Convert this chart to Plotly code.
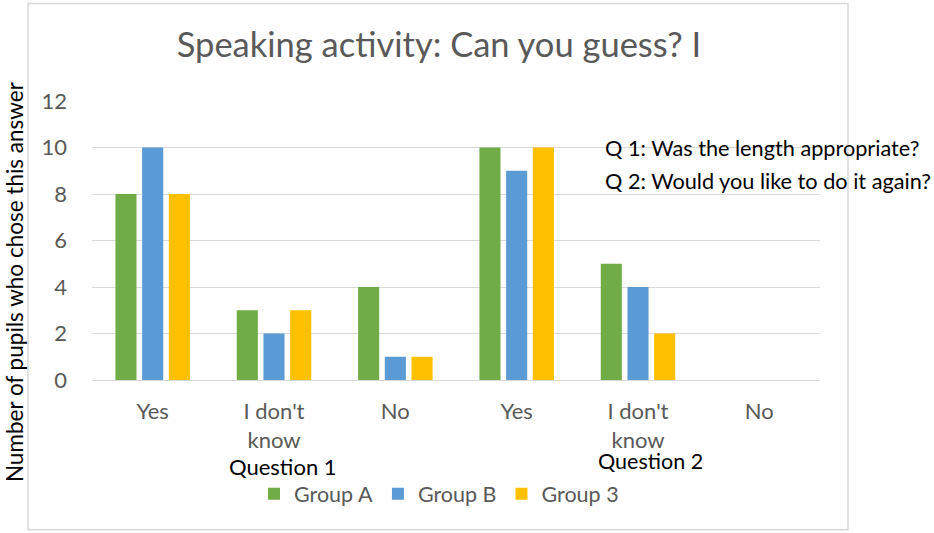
import plotly.graph_objects as go

categories = ["Yes", "I don't<br>know", "No", "Yes", "I don't<br>know", "No"]
group_a = [8, 3, 4, 10, 5, 0]
group_b = [10, 2, 1, 9, 4, 0]
group_3 = [8, 3, 1, 10, 2, 0]
series_names = ["Group A", "Group B", "Group 3"]
series_colors = ["#70AD47", "#5B9BD5", "#FFC000"]
y_ticks = [0, 2, 4, 6, 8, 10, 12]

x_pos = list(range(len(categories)))
FONT = "Lato"
GRAY = "#595959"

fig = go.Figure()
for name, vals, col in zip(series_names, [group_a, group_b, group_3], series_colors):
    fig.add_trace(go.Bar(x=x_pos, y=vals, name=name, marker_color=col,
                         marker_line_width=0))

# plot area geometry (px): left 92, right 820, top 100.7, bottom 380
L, R, T, B = 92, 820, 100.7, 380
W, H = 934, 533

def px_x(px):
    return (px - L) / (R - L)

def px_y(py):
    return (B - py) / (B - T)

fig.update_layout(
    width=W, height=H,
    margin=dict(l=L, r=W - R, t=T, b=H - B, pad=0),
    paper_bgcolor="white", plot_bgcolor="white",
    barmode="group", bargap=0.34, bargroupgap=0.21,
    font=dict(family=FONT, color=GRAY, size=22),
    title=dict(text="Speaking activity: Can you guess? I", x=439 / W, xref="container",
               xanchor="center", y=1 - 45 / H, yref="container", yanchor="middle",
               font=dict(family=FONT, size=34.5, color=GRAY)),
    xaxis=dict(tickvals=x_pos, ticktext=categories, range=[-0.5, 5.5],
               showgrid=False, zeroline=False, showline=False, ticks="",
               tickfont=dict(family=FONT, size=22, color=GRAY), ticklabelstandoff=16),
    yaxis=dict(range=[0, 12], tickvals=y_ticks, showgrid=True, gridcolor="#D9D9D9",
               gridwidth=1, zeroline=True, zerolinecolor="#D9D9D9", zerolinewidth=1,
               showline=False, ticks="", tickfont=dict(family=FONT, size=22, color=GRAY),
               ticklabelstandoff=24),
    legend=dict(orientation="h", x=px_x(439), xanchor="center", y=px_y(494), yanchor="middle",
                font=dict(family=FONT, size=21.5, color=GRAY), bgcolor="rgba(0,0,0,0)",
                itemwidth=30, traceorder="normal"),
    showlegend=True,
)

def note(text, x, y, size=22, xanchor="center", angle=0):
    fig.add_annotation(text=text, xref="paper", yref="paper", x=px_x(x), y=px_y(y),
                       xanchor=xanchor, yanchor="middle", textangle=angle, showarrow=False,
                       font=dict(family=FONT, size=size, color="black"))

note("Number of pupils who chose this answer", 14, 282, size=22.5, angle=-90)
note("Question 1", 283, 467)
note("Question 2", 650, 461, size=21.5)
note("Q 1: Was the length appropriate?", 603, 148, size=21.7, xanchor="left")
note("Q 2: Would you like to do it again?", 603, 181, size=21.7, xanchor="left")

fig.add_shape(type="rect", xref="paper", yref="paper",
              x0=px_x(28), x1=px_x(848), y0=px_y(530), y1=px_y(3),
              line=dict(color="#D9D9D9", width=1.5), layer="below")

fig.write_html("out.html")
